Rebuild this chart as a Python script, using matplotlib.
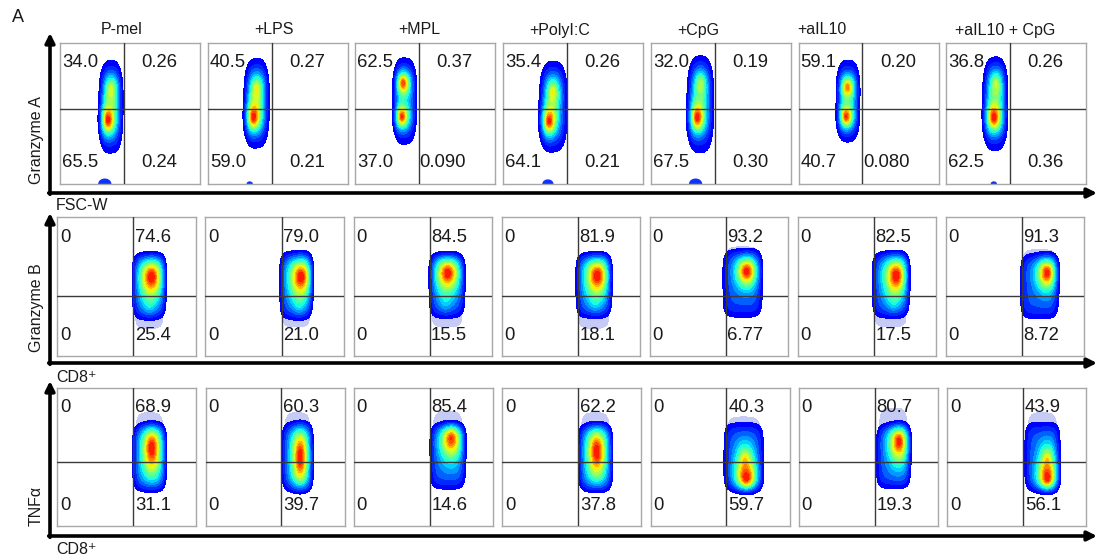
import numpy as np
import matplotlib.pyplot as plt
from matplotlib.patches import Ellipse

plt.rcParams['font.family'] = ['Liberation Sans', 'DejaVu Sans']

W, H = 1098, 558

# column titles
groups = ["P-mel", "+LPS", "+MPL", "+PolyI:C", "+CpG", "+aIL10", "+aIL10 + CpG"]

# quadrant percentages, row 1 (Granzyme A vs FSC-W)
gzmA_ul = ["34.0", "40.5", "62.5", "35.4", "32.0", "59.1", "36.8"]
gzmA_ur = ["0.26", "0.27", "0.37", "0.26", "0.19", "0.20", "0.26"]
gzmA_ll = ["65.5", "59.0", "37.0", "64.1", "67.5", "40.7", "62.5"]
gzmA_lr = ["0.24", "0.21", "0.090", "0.21", "0.30", "0.080", "0.36"]

# row 2 (Granzyme B vs CD8+)
gzmB_ul = ["0"] * 7
gzmB_ur = ["74.6", "79.0", "84.5", "81.9", "93.2", "82.5", "91.3"]
gzmB_ll = ["0"] * 7
gzmB_lr = ["25.4", "21.0", "15.5", "18.1", "6.77", "17.5", "8.72"]

# row 3 (TNFa vs CD8+)
tnf_ul = ["0"] * 7
tnf_ur = ["68.9", "60.3", "85.4", "62.2", "40.3", "80.7", "43.9"]
tnf_ll = ["0"] * 7
tnf_lr = ["31.1", "39.7", "14.6", "37.8", "59.7", "19.3", "56.1"]

# population outlines: (x0, x1, y0, y1) in gate units
gzmA_box = [(0.285, 0.445, 0.23, 0.85), (0.265, 0.435, 0.27, 0.87), (0.275, 0.435, 0.29, 0.88),
            (0.265, 0.455, 0.24, 0.85), (0.265, 0.445, 0.23, 0.88), (0.275, 0.435, 0.31, 0.87),
            (0.265, 0.435, 0.25, 0.87)]
# density peaks: (x, y, sx, sy, height)
gzmA_peaks = [
    [(0.34, 0.45, 0.05, 0.1, 0.85), (0.365, 0.68, 0.05, 0.12, 0.52)],
    [(0.325, 0.47, 0.05, 0.1, 0.85), (0.35, 0.68, 0.05, 0.12, 0.52)],
    [(0.33, 0.475, 0.045, 0.08, 0.85), (0.34, 0.72, 0.045, 0.08, 0.85)],
    [(0.325, 0.44, 0.05, 0.1, 0.85), (0.355, 0.66, 0.05, 0.12, 0.52)],
    [(0.33, 0.47, 0.05, 0.1, 0.85), (0.355, 0.72, 0.05, 0.12, 0.5)],
    [(0.34, 0.475, 0.045, 0.08, 0.85), (0.35, 0.69, 0.045, 0.08, 0.72)],
    [(0.34, 0.47, 0.05, 0.1, 0.85), (0.355, 0.72, 0.05, 0.12, 0.52)],
]
gzmA_dot_x = [0.32, 0.30, None, 0.32, 0.32, None, 0.34]
gzmA_dot_w = [0.085, 0.035, 0, 0.07, 0.085, 0, 0.035]

gzmB_box = [(0.547, 0.78, 0.27, 0.73), (0.54, 0.77, 0.27, 0.74), (0.55, 0.80, 0.28, 0.73),
            (0.54, 0.79, 0.28, 0.73), (0.53, 0.81, 0.28, 0.76), (0.54, 0.80, 0.28, 0.74),
            (0.54, 0.81, 0.27, 0.73)]
gzmB_peaks = [
    [(0.68, 0.57, 0.075, 0.13, 0.85), (0.665, 0.36, 0.05, 0.12, 0.15)],
    [(0.69, 0.57, 0.075, 0.13, 0.85), (0.675, 0.36, 0.05, 0.12, 0.15)],
    [(0.68, 0.60, 0.075, 0.12, 0.85), (0.665, 0.38, 0.05, 0.12, 0.12)],
    [(0.69, 0.58, 0.075, 0.13, 0.85), (0.675, 0.38, 0.05, 0.12, 0.12)],
    [(0.70, 0.61, 0.065, 0.1, 0.85)],
    [(0.71, 0.58, 0.075, 0.13, 0.85), (0.69, 0.38, 0.05, 0.12, 0.12)],
    [(0.73, 0.60, 0.065, 0.11, 0.85)],
]
gzmB_cap = [(0.20, 0.35), (0.21, 0.35), (0.21, 0.35), (0.20, 0.35), (0.62, 0.785),
            (0.21, 0.35), (0.62, 0.765)]

tnf_box = [(0.545, 0.78, 0.26, 0.73), (0.55, 0.77, 0.26, 0.74), (0.55, 0.80, 0.27, 0.73),
           (0.55, 0.79, 0.26, 0.73), (0.53, 0.81, 0.26, 0.745), (0.56, 0.80, 0.275, 0.73),
           (0.56, 0.81, 0.26, 0.75)]
tnf_peaks = [
    [(0.68, 0.565, 0.065, 0.2, 0.85)],
    [(0.68, 0.50, 0.055, 0.22, 0.85)],
    [(0.70, 0.65, 0.07, 0.15, 0.85)],
    [(0.68, 0.54, 0.065, 0.2, 0.85)],
    [(0.69, 0.33, 0.065, 0.1, 0.85), (0.68, 0.48, 0.06, 0.12, 0.45)],
    [(0.72, 0.62, 0.065, 0.15, 0.85)],
    [(0.72, 0.33, 0.06, 0.1, 0.85), (0.72, 0.48, 0.055, 0.12, 0.45)],
]
tnf_cap = [(0.55, 0.82), (0.55, 0.82), (0.55, 0.83), (0.55, 0.82), (0.55, 0.79),
           (0.55, 0.855), (0.55, 0.82)]

fig = plt.figure(figsize=(W / 100, H / 100), dpi=100)

bg = fig.add_axes([0, 0, 1, 1])
bg.set_xlim(0, W)
bg.set_ylim(H, 0)
bg.axis("off")

xs = np.linspace(0, 1, 320)
X, Y = np.meshgrid(xs, xs)
band_colors = plt.cm.jet(np.linspace(0.11, 0.88, 15))


def envelope(box, px, py):
    x0, x1, y0, y1 = box
    cx, cy = (x0 + x1) / 2, (y0 + y1) / 2
    wx, wy = (x1 - x0) / 2, (y1 - y0) / 2
    return np.exp(-(np.abs((X - cx) / wx) ** px + np.abs((Y - cy) / wy) ** py))


def draw_blob(ax, box, peaks, base, p):
    env = envelope(box, p, p)
    inner = base + sum(a * np.exp(-np.sqrt(((X - px) / sx) ** 2 + ((Y - py) / sy) ** 2) ** 1.5)
                       for px, py, sx, sy, a in peaks)
    d = env * inner
    levels = np.append(np.linspace(base * np.exp(-1), 0.95, 15), 10)
    ax.contourf(X, Y, d, levels=levels, colors=band_colors, zorder=2)


def draw_cap(ax, box, cap):
    x0, x1, _, _ = box
    env = envelope((x0 + 0.02, x1 - 0.02, cap[0], cap[1]), 4, 2.5)
    ax.contourf(X, Y, env, levels=[np.exp(-1), 2], colors=["#c6cbf6"], zorder=1)


def panel(left, top, w, h, vx, hy):
    ax = fig.add_axes([left / W, 1 - (top + h) / H, w / W, h / H])
    ax.set_xlim(0, 1)
    ax.set_ylim(0, 1)
    ax.set_xticks([])
    ax.set_yticks([])
    for s in ax.spines.values():
        s.set_color("#a8a8a8")
        s.set_linewidth(1)
    ax.axvline(vx, color="#3a3a3a", lw=1, zorder=3)
    ax.axhline(hy, color="#3a3a3a", lw=1, zorder=3)
    return ax


num_kw = dict(fontsize=13.3, color="#1a1a1a", va="center", zorder=4)

# Row 1: Granzyme A
for i in range(7):
    ax = panel(60 + i * 147.7, 43, 140, 141, 0.457, 0.532)
    draw_blob(ax, gzmA_box[i], gzmA_peaks[i], 0.2, 3)
    if gzmA_dot_x[i] is not None:
        ax.add_patch(Ellipse((gzmA_dot_x[i], 0.0), gzmA_dot_w[i], gzmA_dot_w[i] * 0.8,
                             color=(0.05, 0.2, 1.0), zorder=2, clip_on=True))
    ax.text(0.015, 0.86, gzmA_ul[i], ha="left", **num_kw)
    ax.text(0.015, 0.15, gzmA_ll[i], ha="left", **num_kw)
    rx = 0.625 if len(gzmA_lr[i]) > 4 else 0.71
    ax.text(0.71, 0.86, gzmA_ur[i], ha="center", **num_kw)
    ax.text(rx, 0.15, gzmA_lr[i], ha="center", **num_kw)

# Row 2: Granzyme B
for i in range(7):
    ax = panel(57.3 + i * 148.1, 217, 138.5, 139, 0.55, 0.43)
    draw_cap(ax, gzmB_box[i], gzmB_cap[i])
    draw_blob(ax, gzmB_box[i], gzmB_peaks[i], 0.2, 5)
    ax.text(0.02, 0.856, gzmB_ul[i], ha="left", **num_kw)
    ax.text(0.02, 0.15, gzmB_ll[i], ha="left", **num_kw)
    ax.text(0.56, 0.856, gzmB_ur[i], ha="left", **num_kw)
    ax.text(0.56, 0.15, gzmB_lr[i], ha="left", **num_kw)

# Row 3: TNFa
for i in range(7):
    ax = panel(57.3 + i * 148.3, 388, 139, 138, 0.545, 0.465)
    draw_cap(ax, tnf_box[i], tnf_cap[i])
    draw_blob(ax, tnf_box[i], tnf_peaks[i], 0.2, 5)
    ax.text(0.02, 0.862, tnf_ul[i], ha="left", **num_kw)
    ax.text(0.02, 0.145, tnf_ll[i], ha="left", **num_kw)
    ax.text(0.56, 0.862, tnf_ur[i], ha="left", **num_kw)
    ax.text(0.56, 0.145, tnf_lr[i], ha="left", **num_kw)

# titles
title_x = [122, 274, 419, 560, 698, 822, 1005]
for name, tx in zip(groups, title_x):
    bg.text(tx, 30, name, ha="center", va="center", fontsize=11.5, color="#1a1a1a")

bg.text(12, 17, "A", ha="left", va="center", fontsize=13, color="#1a1a1a")

# axis arrows
arrow = dict(arrowstyle="-|>", color="k", lw=2.6, mutation_scale=14, shrinkA=0, shrinkB=0)
for y_axis, y_top in [(193, 33), (363, 213), (536, 381)]:
    bg.annotate("", xy=(50, y_top), xytext=(50, y_axis + 1.3), arrowprops=arrow)
    bg.annotate("", xy=(1097, y_axis), xytext=(48.7, y_axis), arrowprops=arrow)

lab_kw = dict(fontsize=11.5, color="#1a1a1a")
bg.text(36, 140, "Granzyme A", rotation=90, ha="center", va="center", **lab_kw)
bg.text(36, 308, "Granzyme B", rotation=90, ha="center", va="center", **lab_kw)
bg.text(36, 506, "TNFα", rotation=90, ha="center", va="center", **lab_kw)
bg.text(56, 206, "FSC-W", ha="left", va="center", **lab_kw)
bg.text(56, 378, "CD8⁺", ha="left", va="center", **lab_kw)
bg.text(56, 549, "CD8⁺", ha="left", va="center", **lab_kw)

fig.savefig("out.png", dpi=100)
